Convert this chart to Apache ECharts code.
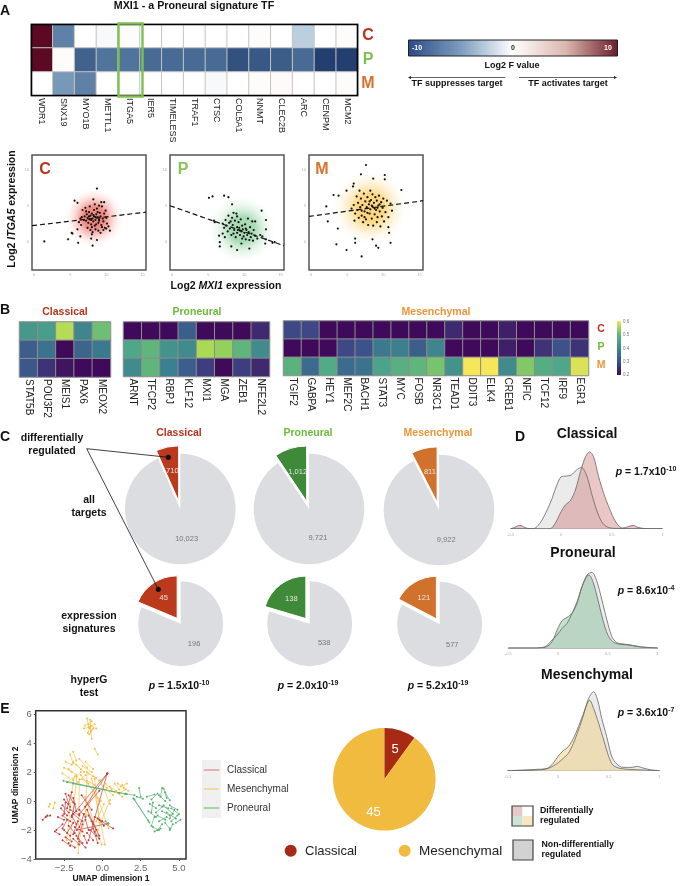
<!DOCTYPE html>
<html>
<head>
<meta charset="utf-8">
<title>MXI1</title>
<script src="https://cdn.jsdelivr.net/npm/echarts@6/dist/echarts.min.js"></script>
<style>
html, body { margin: 0; padding: 0; background: #fff; }
#main { width: 682px; height: 886px; }
</style>
</head>
<body>
<div id="main"></div>
<script>
// panel A heatmap
var targetGenes = ['WDR1','SNX19','MYO1B','METTL1','ITGA5','IER5','TIMELESS','TRAF1','CTSC','COL5A1','NNMT','CLEC2B','ARC','CENPM','MCM2'];
var subtypeRows = ['C','P','M'];
var fValueC = [10,-6,0,-0.3,0.3,0,0,0,0,0,0.3,0,-2.5,0,0.3];
var fValueP = [10,0.3,-7.5,-6.5,-6.5,-7,-7,-7,-7,-8.5,-8,-7.8,-7,-9.5,-9.5];
var fValueM = [0,-5,-6,0,0,0,0,0,-0.3,0,0.3,0.4,0,0,0.3];

// panel A scatter, log2 MXI1 / log2 ITGA5
var scatterC = [[1.4,0],[8.7,7.4],[5.6,5.7],[6,5.4],[8.2,5.9],[9.3,5.5],[9.7,5.5],[4.7,0.3],[6.1,-0.2],[7.9,0.4],[8.7,0.2],[8.1,-0.6],[5.2,1.2],[5.3,1.1],[6,1.7],[6.4,0.7],[8,1],[10.5,1.5],[10,1.8],
    [6.4,3.2],[6.6,3.4],[6.9,3],[7,3.5],[7.2,2.9],[7.3,3.8],[7.4,3.3],[7.5,2.6],[7.6,4.1],[7.7,3.1],[7.8,3.6],[7.9,2.4],[8,3.9],[8.1,3.2],[8.2,2.8],[8.3,4.4],[8.3,3.5],[8.4,2.2],[8.5,3],[8.6,3.8],[8.7,4.6],[8.8,3.4],[8.9,2.6],[9,3.1],[9.1,4],[9.2,3.5],[9.3,2.3],[9.4,4.9],[9.5,3.2],[9.6,2.8],[9.7,3.9],[9.8,1.9],[10,3.3],[10.1,2.5],[10.3,2.1],
    [6.7,4.4],[6.2,2.7],[6.5,2.3],[7.1,4.7],[7.4,1.9],[7.8,1.6],[8.1,1.3],[8.5,1.7],[8.9,1.5],[9.2,1.2],[9.6,1.6],[9.9,4.3],[9,5],[8.4,5.2],[7.7,4.9],[7.2,4.2],[8,2],[8.6,2.4],[9.4,2],[8.5,3.4],[7.6,3.5],[9,2.9],[8.2,3.7],[7.9,3],[8.8,4.1]];
var scatterP = [[5.1,6.1],[5.6,6.3],[7.2,6.4],[7.8,6.2],[8.3,5.2],[12.4,4.3],[13,3],[11.1,2.8],[11.5,2.8],[13,1.7],[13,0.3],[12.9,-0.3],[13.9,-0.2],[14.2,-0.1],[6.6,-0.7],[6.6,-0.1],[6.5,0.8],[8.2,-0.7],[9,-1.2],[10.7,-1],[9.6,-0.3],[5.8,2.9],[5.9,2.7],
    [7,2.5],[7.2,1.9],[7.4,3],[7.5,2.2],[7.7,1.4],[7.8,3.6],[7.9,2.6],[8,1.8],[8.2,0.9],[8.3,3.3],[8.4,2.3],[8.5,4],[8.6,1.6],[8.7,2.9],[8.8,0.6],[8.9,3.9],[9,2],[9,1.2],[9.1,1.6],[9.2,2.7],[9.3,1.9],[9.4,0.9],[9.5,3.1],[9.6,1.4],[9.7,2.2],[9.8,1.7],[9.9,0.7],[10,1.2],[10.1,2.4],[10.2,0.3],[10.3,1.6],[10.4,0.9],[10.5,3.2],[10.6,1.3],[10.7,0.2],[10.8,2],[10.9,0.6],[11,1.1],[11.2,0.1],[11.3,1.6],[11.5,0.8],[11.8,0.4],[12.2,0.9],[12.5,0.7],[9.4,1.5],[8.1,2.8],[9.7,0.4],[8.5,1.1],[10.2,1.8],[7.3,0.6],[7,1.1],[9,3.5]];
var scatterM = [[7.6,10.7],[6.9,9.4],[10.2,9.3],[10.2,8.7],[12.5,7.2],[8.6,8.8],[5.9,8.1],[5.8,7.7],[4.9,7.1],[3.1,6.5],[3.8,6.4],[2.1,4.9],[2.3,2.8],[3.7,1.8],[3.5,-0.4],[4.9,-1.2],[6.1,0.4],[6.1,-0.2],[7,-2.1],[8.5,0.3],[9,-0.6],[9.3,-0.9],[11,-0.2],[10.8,1.2],[10.7,2],
    [5.6,4.6],[5.9,5.1],[6.1,3.9],[6.3,6.3],[6.4,4.4],[6.5,5.4],[6.6,3.3],[6.7,7.1],[6.8,4.8],[6.9,6],[7,3.6],[7.1,5.1],[7.2,2.7],[7.3,6.7],[7.4,4.2],[7.5,5.6],[7.6,3.1],[7.7,4.8],[7.8,6.2],[7.9,2.3],[8,5.2],[8.1,3.9],[8.2,7.1],[8.2,4.5],[8.3,5.8],[8.4,3.2],[8.5,6.6],[8.5,4.9],[8.6,2.2],[8.7,5.4],[8.8,3.8],[8.9,6.2],[9,4.4],[9.1,5.7],[9.1,2.7],[9.2,3.4],[9.3,5],[9.4,6.4],[9.5,4.2],[9.6,2.1],[9.7,5.5],[9.8,3.5],[9.9,4.7],[10,6],[10.1,2.8],[10.3,4.1],[10.5,5.7],[10.7,3.4],[11,5.3],[11.2,4.3],[8.4,5],[7.8,4],[8.8,4.6],[8.1,5.6],[9.2,4.7],[7.4,3.4],[7,4.3],[9.5,5.2],[6,2.9]];
var trendC = [[-0.3,2.2],[15.5,4.1]];
var trendP = [[-0.3,5],[15.5,-0.6]];
var trendM = [[-0.3,3.5],[15.5,5.7]];
var densityCenterC = [[8.3,3.3]];
var densityCenterP = [[9.7,1.7]];
var densityCenterM = [[8.2,4.7]];
var scatterTicksX = [0,5,10,15];
var scatterTicksY = [0,5,10];

// panel B
var genesClassical = ['STAT5B','POU3F2','MEIS1','PAX6','MEOX2'];
var classicalC = [0.38,0.39,0.55,0.35,0.48];
var classicalP = [0.29,0.32,0.2,0.3,0.33];
var classicalM = [0.28,0.24,0.21,0.2,0.2];
var genesProneural = ['ARNT','TFCP2','RBPJ','KLF12','MXI1','MGA','ZEB1','NFE2L2'];
var proneuralC = [0.2,0.2,0.2,0.29,0.2,0.2,0.2,0.23];
var proneuralP = [0.41,0.46,0.37,0.36,0.54,0.52,0.46,0.36];
var proneuralM = [0.36,0.46,0.34,0.29,0.25,0.2,0.25,0.23];
var genesMesenchymal = ['TGIF2','GABPA','HEY1','MEF2C','BACH1','STAT3','MYC','FOSB','NR3C1','TEAD1','DDIT3','ELK4','CREB1','NFIC','TCF12','IRF9','EGR1'];
var mesenchymalC = [0.26,0.26,0.2,0.2,0.2,0.2,0.2,0.2,0.2,0.23,0.2,0.2,0.22,0.2,0.2,0.2,0.2];
var mesenchymalP = [0.2,0.2,0.2,0.26,0.27,0.33,0.34,0.29,0.35,0.2,0.2,0.2,0.22,0.2,0.24,0.27,0.24];
var mesenchymalM = [0.45,0.31,0.42,0.31,0.32,0.4,0.44,0.46,0.49,0.37,0.6,0.6,0.36,0.5,0.43,0.41,0.58];

// panel C, [other, differentially regulated]
var allTargetsClassical = [10023,710];
var allTargetsProneural = [9721,1012];
var allTargetsMesenchymal = [9922,811];
var signaturesClassical = [196,45];
var signaturesProneural = [538,138];
var signaturesMesenchymal = [577,121];

// panel D, density curves
var densClassicalDiffX = [-0.5,-0.46,-0.41,-0.36,-0.32,-0.28,-0.11,-0.06,-0.01,0.04,0.09,0.14,0.19,0.24,0.28,0.32,0.37,0.42,0.47,0.52,0.57,0.61,0.66,0.71,0.76,0.84,1];
var densClassicalDiffY = [0,0.04,0.1,0.04,0,0,0,0.16,0.46,0.71,0.84,1.16,1.71,2.16,2.31,2.16,1.56,1.06,0.66,0.31,0.08,0.02,0.06,0.1,0.04,0,0];
var densClassicalNonX = [-0.5,-0.28,-0.24,-0.19,-0.14,-0.09,-0.05,0,0.05,0.1,0.15,0.2,0.25,0.3,0.35,0.4,0.45,0.52,1];
var densClassicalNonY = [0,0,0.06,0.26,0.56,0.91,1.26,1.56,1.58,1.61,1.76,1.84,1.61,1.06,0.56,0.21,0.06,0.01,0];
var densProneuralDiffX = [-0.5,-0.25,-0.13,-0.06,-0.01,0.04,0.09,0.14,0.19,0.24,0.29,0.31,0.35,0.4,0.45,0.5,0.55,0.62,0.72,0.81,1];
var densProneuralDiffY = [0,0,0.02,0.19,0.54,0.82,0.92,1.04,1.34,1.84,2.16,2.19,1.99,1.44,0.84,0.39,0.19,0.11,0.09,0.04,0];
var densProneuralNonX = [-0.5,-0.25,-0.13,-0.06,-0.01,0.04,0.09,0.14,0.19,0.24,0.29,0.34,0.39,0.44,0.49,0.54,0.59,0.66,0.76,0.86,1];
var densProneuralNonY = [0,0,0.04,0.24,0.39,0.59,0.74,1.04,1.39,1.84,2.19,2.27,1.99,1.44,0.84,0.34,0.16,0.12,0.07,0.02,0];
var densMesenchymalDiffX = [-0.5,-0.35,-0.21,-0.11,-0.05,0,0.05,0.1,0.15,0.2,0.25,0.28,0.31,0.35,0.4,0.45,0.5,0.54,0.61,0.71,0.84,1];
var densMesenchymalDiffY = [0,0.02,0.04,0.07,0.22,0.44,0.6,0.72,0.97,1.32,1.72,1.97,2.12,1.87,1.42,0.92,0.42,0.17,0.07,0.04,0.02,0];
var densMesenchymalNonX = [-0.5,-0.21,-0.11,-0.05,0,0.05,0.1,0.15,0.2,0.25,0.3,0.35,0.39,0.43,0.48,0.53,0.58,0.64,0.73,0.78,0.84,0.91,1];
var densMesenchymalNonY = [0,0.02,0.06,0.14,0.24,0.37,0.52,0.82,1.22,1.67,2.17,2.37,2.12,1.57,1.02,0.42,0.2,0.1,0.1,0.13,0.08,0.03,0];
var densityTicks = [-0.5,0,0.5,1];

// panel E, trajectories as x1,y1,x2,y2
var umapMesenchymal = [[-1,5.7,-0.9,5.1],[-0.8,5.6,-0.75,4.9],[-1.2,5,-0.8,5.1],[-0.5,5.3,-0.85,5],[-0.4,5,-0.9,5.3],[-0.95,4.7,-0.75,5.2],[-0.7,4.3,-0.75,4.8],[-1.15,5.2,-0.7,5.5],[-0.85,4.6,-0.6,5],
    [-0.5,3.6,-0.3,3.2],[-3.4,-0.2,-3.5,-0.4],[-3.1,-0.1,-3.2,-0.5],
    [-2.4,2.7,-2,2.5],[-2.1,3.2,-1.9,2.6],[-1.9,3.4,-1.7,2.8],[-2.5,2.3,-2,2],[-2.6,1.9,-2.2,1.6],[-2.2,2.2,-1.7,1.8],[-1.9,2.7,-1.4,2.2],[-1.7,2.5,-1.2,2],[-1.5,2.9,-1,2.3],[-1.3,2.4,-0.7,2],[-1.1,2.7,-0.6,2.2],[-1.9,1.5,-1.4,2],[-2.3,1.3,-1.8,1.7],[-1.6,1.3,-1.1,1.8],[-1.3,1.5,-0.9,1.2],[-0.9,1.9,-0.4,1.6],[-1,1.4,-0.5,1.1],[-0.6,1.7,-0.2,1.4],
    [-0.1,1.2,0.3,0.9],[0.2,1.2,0.6,0.8],[0.5,1,0.9,0.7],[0.8,1.2,1.1,0.8],[1,1.2,1.4,0.9],[1.3,1.1,1.7,0.7],[1.5,0.8,1.1,0.5],[0.9,0.6,1.3,0.3],[0.4,0.7,0.7,0.4],[1.2,1,1.6,1.2],
    [-1.67,1.68,-2.1,-2.7],[-1.5,1.5,-1.57,-3.6],[-1.13,0.3,-0.04,-3],[-0.7,1.56,0.17,-3],[0.5,0.07,-0.3,-2],[-1.9,1.45,-2.33,-2.7],[-0.15,1.45,0.5,-0.2],[-1,2,-1.1,-1],[-0.5,1.5,-0.2,-1.5],[-0.6,0.7,-1.6,-3],[-1.4,1.8,-0.1,0],[-0.3,0.2,0.4,-1.9],[0.1,-0.2,-0.4,-1.4]];
var umapClassical = [[-3.9,-1.3,-3.6,-1],[-3.7,-1.1,-3.4,-1],
    [-2.4,0.5,-2.2,-0.2],[-2.5,0.1,-2.1,-0.4],[-2.2,0.4,-1.9,-0.1],[-2,0.6,-2.3,-0.5],[-1.9,0.2,-1.7,-0.7],[-2.6,-0.3,-2.2,-0.8],[-2.4,-0.1,-2.5,-0.9],[-1.8,-0.2,-2,-1.1],[-2.1,-0.6,-1.5,-1],[-2.6,-1,-2.1,-1.4],[-2.9,-1.1,-2.5,-1.3],[-1.9,-0.9,-1.3,-1.4],[-1.5,-0.6,-1.1,-1.1],[-1.2,-0.9,-1.5,-1.8],[-2.3,-1.3,-2.6,-1.9],[-3,-2,-2.6,-1.6],[-3.1,-2.1,-2.8,-2.3],[-2.5,-2,-2.1,-2.4],[-2.2,-1.7,-1.8,-2.2],[-1.9,-1.5,-2.3,-2.2],[-1.6,-1.4,-1.9,-2.3],[-1.3,-1.6,-1.6,-2.6],[-1.1,-1.3,-0.9,-2],[-0.9,-1,-0.6,-1.6],[-0.7,-1.4,-0.4,-2],[-0.5,-1.1,0,-1.4],[-0.3,-1.2,0.1,-1.7],[-0.2,-1.3,0.7,-1.9],[-1,-2.2,-0.6,-2.7],[-0.8,-2,-0.4,-2.4],[-0.5,-2.1,-0.2,-2.6],[-0.6,-1.9,-0.3,-2.9],[-2.4,-2.5,-2,-2.8],[-2.6,-2.7,-2.1,-3.1],[-2.2,-2.9,-1.8,-3.2],[-1.9,-2.6,-1.5,-3],[-1.7,-2.4,-1.3,-2.9],[-1.5,-2.8,-1.1,-3.2],[-1.2,-2.4,-1,-2.9],[-1.8,-1.8,-1.3,-2.1],[-2,-1,-1.7,-1.6],[-2.7,-0.5,-2.3,-1],
    [0.33,1.91,-1.13,-0.4],[0.33,1.91,-1.9,-0.9],[0.3,1.85,-0.9,-2.7],[-1.35,0.4,-0.7,-0.6],[-0.2,0.7,-1.5,-0.9],[-1.67,-2,0.39,-1.55],[-1,-0.6,-0.2,-2.4]];
var umapProneural = [[2.4,0.9,2.5,0.3],[2.25,0.3,2.65,0.15],[2.9,0.3,3.4,0.45],[3.6,0.5,3.2,0.1],[3.9,0.9,3.8,0.3],[4,0.85,4.2,0.2],[4.1,0.6,4.4,0.05],[3.7,0.4,4.1,0],[3.1,-0.2,3.5,-0.5],[3.3,-0.1,3.2,-0.8],[3.5,-0.8,3.9,-0.4],[3.7,-0.3,4.3,-0.5],[4,-0.3,4.6,-0.9],[4.4,-0.3,4.9,-0.6],[4.5,-0.5,5,-0.9],[4.7,-0.6,4.4,-1.2],[4.9,-1,4.5,-1.4],[4.2,-0.8,4.8,-1.2],[3.9,-0.7,4.4,-1],[3.6,-1,4.1,-1.3],[3.4,-1.1,3.2,-1.7],[3.7,-1.4,4.2,-1.1],[3.9,-1.6,3.6,-2],[4.1,-1.5,4.4,-1.9],[3.3,-1.8,3.7,-2],[3.4,-2.1,3.8,-1.9],[4.6,-1.6,4.4,-2],[4.8,-1.5,5.1,-1.3],[3,-0.7,3.5,-1.1],
    [2.02,0.18,3.07,-1.49],[2.1,0.1,3,-1.35],[-2.54,1.4,1.59,0.46],[-2.3,1.3,1.1,0.55],[-1.9,1.2,1.5,0.5],[1.5,0.5,2.1,0.4],[0.2,-1.4,0.4,-1.55]];
var umapTicksX = [-2.5,0,2.5,5];
var umapTicksY = [-4,-2,0,2,4,6];
var genesBySubtype = [5,45];

var FONT = '"Liberation Sans", Arial, sans-serif';
var RED = '#b8341c', GREEN = '#6cbb3c', ORANGE = '#ef9438';

var grids = [], xAxes = [], yAxes = [], seriesList = [], graphics = [];

function addText(x, y, text, size, color, bold, align, extra) {
    var el = {
        type: 'text', x: x, y: y, z: 50, silent: true,
        style: {
            text: text, x: 0, y: 0, fill: color || '#111',
            font: (bold ? 'bold ' : '') + size + 'px ' + FONT,
            align: align || 'center', verticalAlign: 'middle'
        }
    };
    if (extra && extra.rich) el.style.rich = extra.rich;
    if (extra && extra.rotation) el.rotation = extra.rotation;
    graphics.push(el);
}
function addLine(x1, y1, x2, y2, color, width) {
    graphics.push({type: 'line', z: 49, silent: true, shape: {x1: x1, y1: y1, x2: x2, y2: y2}, style: {stroke: color, lineWidth: width}});
}
function addRect(x, y, w, h, fill, stroke, width) {
    graphics.push({type: 'rect', z: 45, silent: true, shape: {x: x, y: y, width: w, height: h}, style: {fill: fill, stroke: stroke || null, lineWidth: width || 0}});
}
function addDot(x, y, r, color) {
    graphics.push({type: 'circle', z: 49, silent: true, shape: {cx: x, cy: y, r: r}, style: {fill: color}});
}
function addArrowHead(x, y, dir) {
    graphics.push({type: 'polygon', z: 49, silent: true, shape: {points: [[x, y], [x - dir * 3, y - 1.5], [x - dir * 3, y + 1.5]]}, style: {fill: '#222'}});
}
// p value with italic p and superscript exponent
function addPValue(x, y, mantissa, exponent, align) {
    addText(x, y, '{i|p} = ' + mantissa + 'x10{s|' + exponent + '}', 10.5, '#111', true, align || 'center', {
        rich: {
            i: {font: 'italic bold 10.5px ' + FONT, fill: '#111', lineHeight: 13},
            s: {font: 'bold 7px ' + FONT, fill: '#111', verticalAlign: 'top', lineHeight: 13}
        }
    });
}
function addGrid(left, top, width, height, frame) {
    var g = {left: left, top: top, width: width, height: height, containLabel: false};
    if (frame) {
        g.show = true;
        g.borderColor = frame.color;
        g.borderWidth = frame.width;
        g.backgroundColor = 'transparent';
    }
    grids.push(g);
    return grids.length - 1;
}
function rowsToCells(rows) {
    var cells = [];
    for (var r = 0; r < rows.length; r++) {
        for (var c = 0; c < rows[r].length; c++) {
            cells.push([c, r, rows[r][c]]);
        }
    }
    return cells;
}
function addHeatmap(left, top, width, height, genes, rows, fontSize, border) {
    var idx = addGrid(left, top, width, height);
    xAxes.push({
        gridIndex: idx, type: 'category', data: genes,
        axisLine: {show: false}, axisTick: {show: false}, splitArea: {show: false},
        axisLabel: {rotate: -90, interval: 0, margin: 2, fontSize: fontSize, color: '#222', fontFamily: FONT}
    });
    yAxes.push({gridIndex: idx, type: 'category', data: subtypeRows, inverse: true, show: false, splitArea: {show: false}});
    seriesList.push({
        type: 'heatmap', xAxisIndex: idx, yAxisIndex: idx, data: rowsToCells(rows),
        progressive: 0, silent: true, label: {show: false},
        itemStyle: {borderColor: border, borderWidth: 1}
    });
    return seriesList.length - 1;
}
function addExpressionScatter(left, points, trend, center, glow, glowSize) {
    var idx = addGrid(left, 155, 114, 115, {color: '#555', width: 1.5});
    xAxes.push({
        gridIndex: idx, type: 'value', min: -0.3, max: 15.5, splitLine: {show: false},
        axisLine: {show: false, onZero: false}, axisTick: {show: false},
        axisLabel: {fontSize: 4, color: '#aaa', margin: 3, fontFamily: FONT, customValues: scatterTicksX}
    });
    yAxes.push({
        gridIndex: idx, type: 'value', min: -4, max: 12.1, splitLine: {show: false},
        axisLine: {show: false, onZero: false}, axisTick: {show: false},
        axisLabel: {fontSize: 4, color: '#aaa', margin: 3, fontFamily: FONT, customValues: scatterTicksY}
    });
    seriesList.push({
        type: 'scatter', xAxisIndex: idx, yAxisIndex: idx, data: center, symbolSize: glowSize, silent: true, z: 1,
        itemStyle: {opacity: 1, color: new echarts.graphic.RadialGradient(0.5, 0.5, 0.5, [
            {offset: 0, color: glow}, {offset: 0.35, color: glow}, {offset: 1, color: 'rgba(255,255,255,0)'}])}
    });
    seriesList.push({
        type: 'scatter', xAxisIndex: idx, yAxisIndex: idx, data: points, symbolSize: 2.2, silent: true, z: 3,
        itemStyle: {color: '#111', opacity: 1}
    });
    seriesList.push({
        type: 'line', xAxisIndex: idx, yAxisIndex: idx, data: trend, showSymbol: false, silent: true, z: 4,
        lineStyle: {color: '#111', width: 1.2, type: [5, 3]}
    });
}
function addPie(cx, cy, r, values, color, offset) {
    var labels = [values[0].toLocaleString('en-US'), values[1].toLocaleString('en-US')];
    seriesList.push({
        type: 'pie', center: [cx, cy], radius: [0, r], startAngle: 90, clockwise: true,
        selectedMode: 'multiple', selectedOffset: offset, avoidLabelOverlap: false, silent: true,
        labelLine: {show: false},
        emphasis: {disabled: true},
        data: [
            {value: values[0], name: 'other', itemStyle: {color: '#dcdde0'},
                label: {show: true, position: 'inside', formatter: labels[0], fontSize: 7.5, color: '#777', fontFamily: FONT}},
            {value: values[1], name: 'diff', selected: true, itemStyle: {color: color, borderColor: '#fff', borderWidth: 1},
                label: {show: true, position: 'inside', formatter: labels[1], fontSize: 7.5, color: '#e6e6e6', fontFamily: FONT}}
        ]
    });
}
function zipXY(xs, ys) {
    var out = [];
    for (var i = 0; i < xs.length; i++) out.push([xs[i], ys[i]]);
    return out;
}
function addDensity(left, top, width, height, nonX, nonY, diffX, diffY, fill) {
    var idx = addGrid(left, top, width, height);
    xAxes.push({
        gridIndex: idx, type: 'value', min: -0.5, max: 1, splitLine: {show: false},
        axisLine: {show: true, onZero: false, lineStyle: {color: '#bbb', width: 1}},
        axisTick: {show: false},
        axisLabel: {fontSize: 4, color: '#aaa', margin: 4, fontFamily: FONT, customValues: densityTicks}
    });
    yAxes.push({gridIndex: idx, type: 'value', min: 0, max: 2.5, show: false});
    var curves = [[zipXY(nonX, nonY), 'rgba(205,205,205,0.4)'], [zipXY(diffX, diffY), fill]];
    curves.forEach(function (c) {
        seriesList.push({
            type: 'line', xAxisIndex: idx, yAxisIndex: idx, data: c[0], smooth: 0.3, showSymbol: false, silent: true,
            lineStyle: {color: '#666', width: 0.8}, areaStyle: {color: c[1], opacity: 1}
        });
    });
}
function segmentPoints(segments) {
    var pts = [];
    segments.forEach(function (s) {
        pts.push([s[0], s[1]]);
        pts.push([s[2], s[3]]);
    });
    return pts;
}
function addUmapClass(idx, segments, color) {
    seriesList.push({
        type: 'lines', coordinateSystem: 'cartesian2d', xAxisIndex: idx, yAxisIndex: idx, silent: true,
        lineStyle: {color: color, width: 0.8, opacity: 0.85},
        data: segments.map(function (s) { return {coords: [[s[0], s[1]], [s[2], s[3]]]}; })
    });
    seriesList.push({
        type: 'scatter', xAxisIndex: idx, yAxisIndex: idx, data: segmentPoints(segments), symbolSize: 2, silent: true,
        itemStyle: {color: color, opacity: 1}
    });
}

// ---- panel A ----
addText(5, 11, 'A', 14, '#111', true);
addText(194, 6, 'MXI1 - a Proneural signature TF', 10.7, '#111', true);
var fHeatIdx = addHeatmap(31, 24, 327, 72, targetGenes, [fValueC, fValueP, fValueM], 9, '#c4c4c4');
addRect(31.5, 24.5, 326, 71, 'transparent', '#000', 1.6);
addRect(118.5, 23.5, 24, 73, 'transparent', '#7dc04f', 2.4);
addText(368, 36, 'C', 16, RED, true);
addText(368, 60, 'P', 16, '#7dc04f', true);
addText(368, 84, 'M', 16, '#d9702b', true);

addRect(408.5, 40, 209, 16, new echarts.graphic.LinearGradient(0, 0, 1, 0, [
    {offset: 0, color: '#2c4a86'}, {offset: 0.25, color: '#7d9cbf'}, {offset: 0.5, color: '#ffffff'},
    {offset: 0.75, color: '#dcb7ad'}, {offset: 1, color: '#6b1c2c'}]), '#222', 1);
addText(417, 48.5, '-10', 7, '#fff', true);
addText(513, 48.5, '0', 7, '#222', true);
addText(608, 48.5, '10', 7, '#fff', true);
addText(512, 65.5, 'Log2 F value', 9, '#111', true);
addLine(411, 77.5, 505.5, 77.5, '#222', 0.7);
addArrowHead(408, 77.5, -1);
addLine(519, 77.5, 614, 77.5, '#222', 0.7);
addArrowHead(617, 77.5, 1);
addText(457, 84, 'TF suppresses target', 9, '#111', true);
addText(568, 84, 'TF activates target', 9, '#111', true);

var italicRich = {i: {font: 'italic bold 10.5px ' + FONT, fill: '#111'}};
addExpressionScatter(32, scatterC, trendC, densityCenterC, 'rgba(238,110,100,0.8)', 62);
addExpressionScatter(170, scatterP, trendP, densityCenterP, 'rgba(120,200,140,0.65)', 70);
addExpressionScatter(309, scatterM, trendM, densityCenterM, 'rgba(250,205,100,0.8)', 78);
addText(45, 170, 'C', 16, RED, true);
addText(183, 170, 'P', 16, '#86c55a', true);
addText(322, 170, 'M', 16, '#d9702b', true);
addText(12, 209, 'Log2 {i|ITGA5} expression', 10.5, '#111', true, 'center', {rich: italicRich, rotation: Math.PI / 2});
addText(226, 286, 'Log2 {i|MXI1} expression', 10.5, '#111', true, 'center', {rich: italicRich});

// ---- panel B ----
addText(5, 310, 'B', 14, '#111', true);
addText(65, 312, 'Classical', 10.5, RED, true);
addText(197, 312, 'Proneural', 10.5, GREEN, true);
addText(436, 312, 'Mesenchymal', 10.5, ORANGE, true);
var heatB1 = addHeatmap(19.5, 322, 91, 55, genesClassical, [classicalC, classicalP, classicalM], 10, '#8d8d8d');
var heatB2 = addHeatmap(123.5, 322, 146, 54.5, genesProneural, [proneuralC, proneuralP, proneuralM], 10, '#8d8d8d');
var heatB3 = addHeatmap(283.5, 321, 305, 54.5, genesMesenchymal, [mesenchymalC, mesenchymalP, mesenchymalM], 10, '#8d8d8d');
addText(601, 329, 'C', 10.5, RED, true);
addText(601, 347, 'P', 10.5, GREEN, true);
addText(601, 365, 'M', 10.5, ORANGE, true);
addRect(617, 321, 4, 54, new echarts.graphic.LinearGradient(0, 1, 0, 0, [
    {offset: 0, color: '#400a5a'}, {offset: 0.25, color: '#3d4f8a'}, {offset: 0.5, color: '#3a8a8e'},
    {offset: 0.75, color: '#62b77b'}, {offset: 1, color: '#f5e65a'}]));
['0.6', '0.5', '0.4', '0.3', '0.2'].forEach(function (t, i) {
    addText(623, 321.5 + i * 13.4, t, 4.5, '#777', false, 'left');
});

// ---- panel C ----
addText(5, 437, 'C', 14, '#111', true);
addText(179, 433, 'Classical', 10.5, RED, true);
addText(308, 433, 'Proneural', 10.5, GREEN, true);
addText(438, 433, 'Mesenchymal', 10.5, ORANGE, true);
addText(52, 438.5, 'differentially', 10.5, '#111', true);
addText(52, 451.5, 'regulated', 10.5, '#111', true);
addText(89, 500, 'all', 10.5, '#111', true);
addText(89, 513, 'targets', 10.5, '#111', true);
addText(89, 616, 'expression', 10.5, '#111', true);
addText(89, 629, 'signatures', 10.5, '#111', true);
addText(89, 680, 'hyperG', 10.5, '#111', true);
addText(89, 693, 'test', 10.5, '#111', true);
addPie(180.3, 509, 55.3, allTargetsClassical, '#bb3a1e', 8);
addPie(309, 509, 55.3, allTargetsProneural, '#3f8a38', 8);
addPie(439, 510, 55.3, allTargetsMesenchymal, '#d0722b', 8);
addPie(180.7, 623.7, 42.5, signaturesClassical, '#bb3a1e', 6.4);
addPie(309.7, 623.7, 42.5, signaturesProneural, '#3f8a38', 6.4);
addPie(439.7, 624.3, 42.5, signaturesMesenchymal, '#d0722b', 6.4);
addLine(86.7, 448.7, 168.3, 457.3, '#111', 0.8);
addLine(86.7, 448.7, 158.3, 589.3, '#111', 0.8);
addDot(168.3, 457.3, 2.6, '#111');
addDot(158.3, 589.3, 2.6, '#111');
addPValue(179, 686, '1.5', '-10');
addPValue(308, 686, '2.0', '-19');
addPValue(438, 686, '5.2', '-19');

// ---- panel D ----
addText(520, 437, 'D', 14, '#111', true);
addText(587, 434, 'Classical', 14, '#111', true);
addText(583, 553, 'Proneural', 14, '#111', true);
addText(587, 675, 'Mesenchymal', 14, '#111', true);
addDensity(510.7, 445.4, 151.6, 83.3, densClassicalNonX, densClassicalNonY, densClassicalDiffX, densClassicalDiffY, 'rgba(205,120,120,0.42)');
addDensity(508.3, 564.7, 149.4, 83.3, densProneuralNonX, densProneuralNonY, densProneuralDiffX, densProneuralDiffY, 'rgba(120,185,140,0.42)');
addDensity(507.7, 687.4, 151.6, 83.3, densMesenchymalNonX, densMesenchymalNonY, densMesenchymalDiffX, densMesenchymalDiffY, 'rgba(240,205,120,0.45)');
addPValue(646, 472.5, '1.7', '-10');
addPValue(646, 591.5, '8.6', '-4');
addPValue(646, 713, '3.6', '-7');

// legend of panel D
addRect(512, 806, 10.5, 10, '#e8c9c9');
addRect(522.5, 806, 10.5, 10, '#ffffff');
addRect(512, 816, 10.5, 10, '#cfe3d4');
addRect(522.5, 816, 10.5, 10, '#f7e6bf');
addRect(512, 806, 21, 20, 'transparent', '#444', 1.2);
addRect(513, 840, 20, 20, '#d2d2d2', '#444', 1.2);
addText(540, 811, 'Differentially', 8.8, '#111', true, 'left');
addText(540, 821, 'regulated', 8.8, '#111', true, 'left');
addText(541.5, 845, 'Non-differentially', 8.8, '#111', true, 'left');
addText(541.5, 855, 'regulated', 8.8, '#111', true, 'left');

// ---- panel E ----
addText(5, 709, 'E', 14, '#111', true);
var umapIdx = addGrid(35.7, 710.7, 150.3, 148.3, {color: '#333', width: 1.5});
xAxes.push({
    gridIndex: umapIdx, type: 'value', min: -4.35, max: 5.46, splitLine: {show: false},
    axisLine: {show: false, onZero: false},
    axisTick: {show: true, length: 2, lineStyle: {color: '#555'}, customValues: umapTicksX},
    axisLabel: {fontSize: 9.5, color: '#666', margin: 4, fontFamily: FONT, customValues: umapTicksX,
        formatter: function (v) { return v.toFixed(1).replace('-', '\u2212'); }}
});
yAxes.push({
    gridIndex: umapIdx, type: 'value', min: -4, max: 6.23, splitLine: {show: false},
    axisLine: {show: false, onZero: false},
    axisTick: {show: true, length: 2, lineStyle: {color: '#555'}, customValues: umapTicksY},
    axisLabel: {fontSize: 9.5, color: '#666', margin: 4, fontFamily: FONT, customValues: umapTicksY,
        formatter: function (v) { return String(v).replace('-', '\u2212'); }}
});
addUmapClass(umapIdx, umapMesenchymal, '#f5c04a');
addUmapClass(umapIdx, umapClassical, '#c23b3b');
addUmapClass(umapIdx, umapProneural, '#58b070');
addText(111, 879, 'UMAP dimension 1', 8.5, '#111', true);
addText(15.5, 785, 'UMAP dimension 2', 8.5, '#111', true, 'center', {rotation: Math.PI / 2});

addRect(202, 760, 18.7, 58, '#f0f0f0');
addLine(203.7, 770, 219.3, 770, '#d9706e', 1);
addLine(203.7, 789, 219.3, 789, '#f5c451', 1);
addLine(203.7, 808, 219.3, 808, '#5cb86b', 1);
addText(227, 770, 'Classical', 10, '#333', false, 'left');
addText(227, 789, 'Mesenchymal', 10, '#333', false, 'left');
addText(227, 808, 'Proneural', 10, '#333', false, 'left');

seriesList.push({
    type: 'pie', center: [384.3, 779.3], radius: [0, 51.3], startAngle: 90, clockwise: true, silent: true,
    labelLine: {show: false}, emphasis: {disabled: true}, avoidLabelOverlap: false,
    label: {show: true, position: 'inside', formatter: '{c}', fontSize: 13, color: '#fff', fontFamily: FONT},
    data: [
        {value: genesBySubtype[0], name: 'Classical', itemStyle: {color: '#a62a14'}, label: {offset: [2, -3]}},
        {value: genesBySubtype[1], name: 'Mesenchymal', itemStyle: {color: '#f0bb3e'}, label: {offset: [-2, 6]}}
    ]
});
addDot(290.7, 850.7, 6, '#a62a14');
addText(305, 851, 'Classical', 13, '#222', false, 'left');
addDot(404.7, 850.7, 6, '#f0bb3e');
addText(419, 851, 'Mesenchymal', 13.5, '#222', false, 'left');

var chart = echarts.init(document.getElementById('main'), null, {renderer: 'canvas'});
chart.setOption({
    animation: false,
    backgroundColor: '#fff',
    textStyle: {fontFamily: FONT},
    tooltip: {show: false},
    legend: {show: false},
    grid: grids,
    xAxis: xAxes,
    yAxis: yAxes,
    visualMap: [
        {show: false, type: 'continuous', seriesIndex: [fHeatIdx], dimension: 2, min: -10, max: 10,
            inRange: {color: ['#1b3668', '#4c7199', '#a4bfd5', '#ffffff', '#f5d9cf', '#c58f8d', '#5c0a24']}},
        {show: false, type: 'continuous', seriesIndex: [heatB1, heatB2, heatB3], dimension: 2, min: 0.2, max: 0.6,
            inRange: {color: ['#400a5a', '#3d4f8a', '#3a7b8e', '#4ba48a', '#62b77b', '#a0d854', '#f5e65a']}}
    ],
    series: seriesList,
    graphic: {elements: graphics}
});
</script>
</body>
</html>
